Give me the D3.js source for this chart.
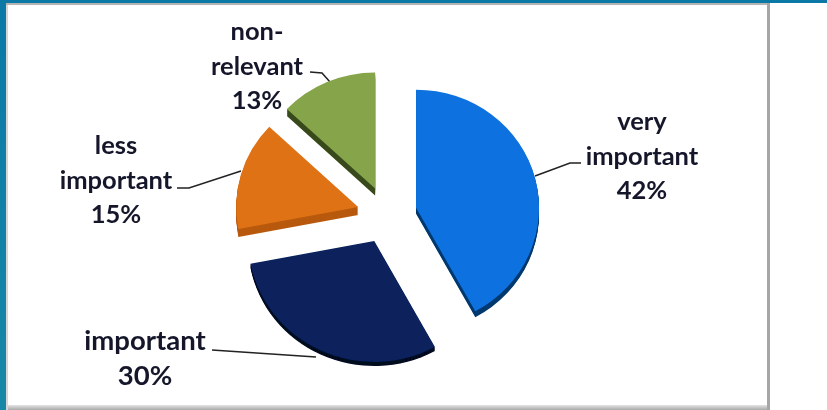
<!DOCTYPE html>
<html lang="en">
  <head>
    <meta charset="UTF-8" />
    <title>Pie</title>
    <script src="https://d3js.org/d3.v7.min.js"></script>
    <style>
      html, body { margin: 0; padding: 0; background: #fff; overflow: hidden; }
      svg { display: block; }
      text { font-family: Lato, "Open Sans", sans-serif; font-weight: 700; fill: #15172b; }
    </style>
  </head>
  <body>
    <div class="chart"></div>
    <script>
      const categories = ["very important", "important", "less important", "non-relevant"];
      const percents = [42, 30, 15, 13];
      const labelLines = [["very", "important", "42%"], ["important", "30%"], ["less", "important", "15%"], ["non-", "relevant", "13%"]];
      const topColors = ["#0a72e0", "#07215b", "#e07216", "#86a44a"];
      const sideColors = ["#03386f", "#02081f", "#b85a0c", "#38491a"];

      const width = 827;
      const height = 410;
      const cx = 387;
      const cy = 215;
      const squash = 0.96; // the pie is tipped back slightly
      const explode = 30;
      // nearer slices look a bit larger in the 3d view
      const radii = [123, 126, 122, 121];
      const depths = [6, 4, 8, 7];

      const svg = d3.select(".chart").append("svg").attr("width", width).attr("height", height);

      // slide frame
      const defs = svg.append("defs");
      const frameGrad = defs.append("linearGradient").attr("id", "frame").attr("x1", 0).attr("x2", 0).attr("y1", 0).attr("y2", 1);
      frameGrad.append("stop").attr("offset", "0%").attr("stop-color", "#0b78a6");
      frameGrad.append("stop").attr("offset", "100%").attr("stop-color", "#1888a8");
      const edgeGrad = defs.append("linearGradient").attr("id", "edge").attr("x1", 0).attr("x2", 0).attr("y1", 0).attr("y2", 1);
      edgeGrad.append("stop").attr("offset", "0%").attr("stop-color", "#e4e4e4");
      edgeGrad.append("stop").attr("offset", "100%").attr("stop-color", "#a8a8a8");
      defs.append("filter").attr("id", "soft").append("feGaussianBlur").attr("stdDeviation", 0.55);

      svg.append("rect").attr("width", width).attr("height", 3).attr("fill", "#0b78a6");
      svg.append("rect").attr("width", 6).attr("height", height).attr("fill", "url(#frame)");
      svg.append("rect").attr("x", 6).attr("y", 3).attr("width", 2).attr("height", height - 3).attr("fill", "#d6d6d6");
      svg.append("rect").attr("x", 6).attr("y", 3).attr("width", 763).attr("height", 2).attr("fill", "#b4b4b4");
      svg.append("rect").attr("x", 767).attr("y", 3).attr("width", 3).attr("height", height - 3).attr("fill", "#a6a6a6");
      svg.append("rect").attr("x", 8).attr("y", 405).attr("width", 759).attr("height", 5).attr("fill", "url(#edge)");

      const chart = svg.append("g").attr("filter", "url(#soft)");

      const pie = d3.pie().sort(null).value((d) => d);
      const arc = d3.arc().innerRadius(0).outerRadius((d) => radii[d.index]);
      const slices = pie(percents);

      const offset = (d) => {
        const mid = (d.startAngle + d.endAngle) / 2;
        return [cx + explode * Math.sin(mid), cy - explode * Math.cos(mid) * squash];
      };

      // leader lines: [x, y] polylines from label to slice
      const leaders = [
        [[581, 163], [570, 163], [535, 176]],
        [[212, 350], [316, 357]],
        [[177, 188], [189, 188], [241, 171]],
        [[310, 72], [322, 73], [330, 82]],
      ];
      chart.selectAll(".leader").data(leaders).join("path").attr("class", "leader")
        .attr("d", d3.line()).attr("fill", "none").attr("stroke", "#222").attr("stroke-width", 1.5);

      // side wall, then top face
      slices.forEach((s) => {
        for (let i = depths[s.index]; i >= 0; i--) {
          const [x, y] = offset(s);
          chart.append("path").datum(s)
            .attr("transform", `translate(${x},${y + i}) scale(1,${squash})`)
            .attr("d", arc)
            .attr("fill", i === 0 ? topColors[s.index] : sideColors[s.index]);
        }
      });

      // labels
      const labelPos = [[642, 130], [145, 350], [116, 154], [257, 40]];
      const labelSizes = [25.5, 27.5, 25.5, 25.5];
      const lineStep = 34.6;
      const labels = chart.selectAll(".label").data(categories).join("text").attr("class", "label")
        .attr("text-anchor", "middle")
        .attr("font-size", (d, i) => labelSizes[i])
        .attr("transform", (d, i) => `translate(${labelPos[i][0]},${labelPos[i][1]})`);
      labels.selectAll("tspan").data((d, i) => labelLines[i]).join("tspan")
        .attr("x", 0).attr("y", (d, i) => i * lineStep).text((d) => d);
    </script>
  </body>
</html>
